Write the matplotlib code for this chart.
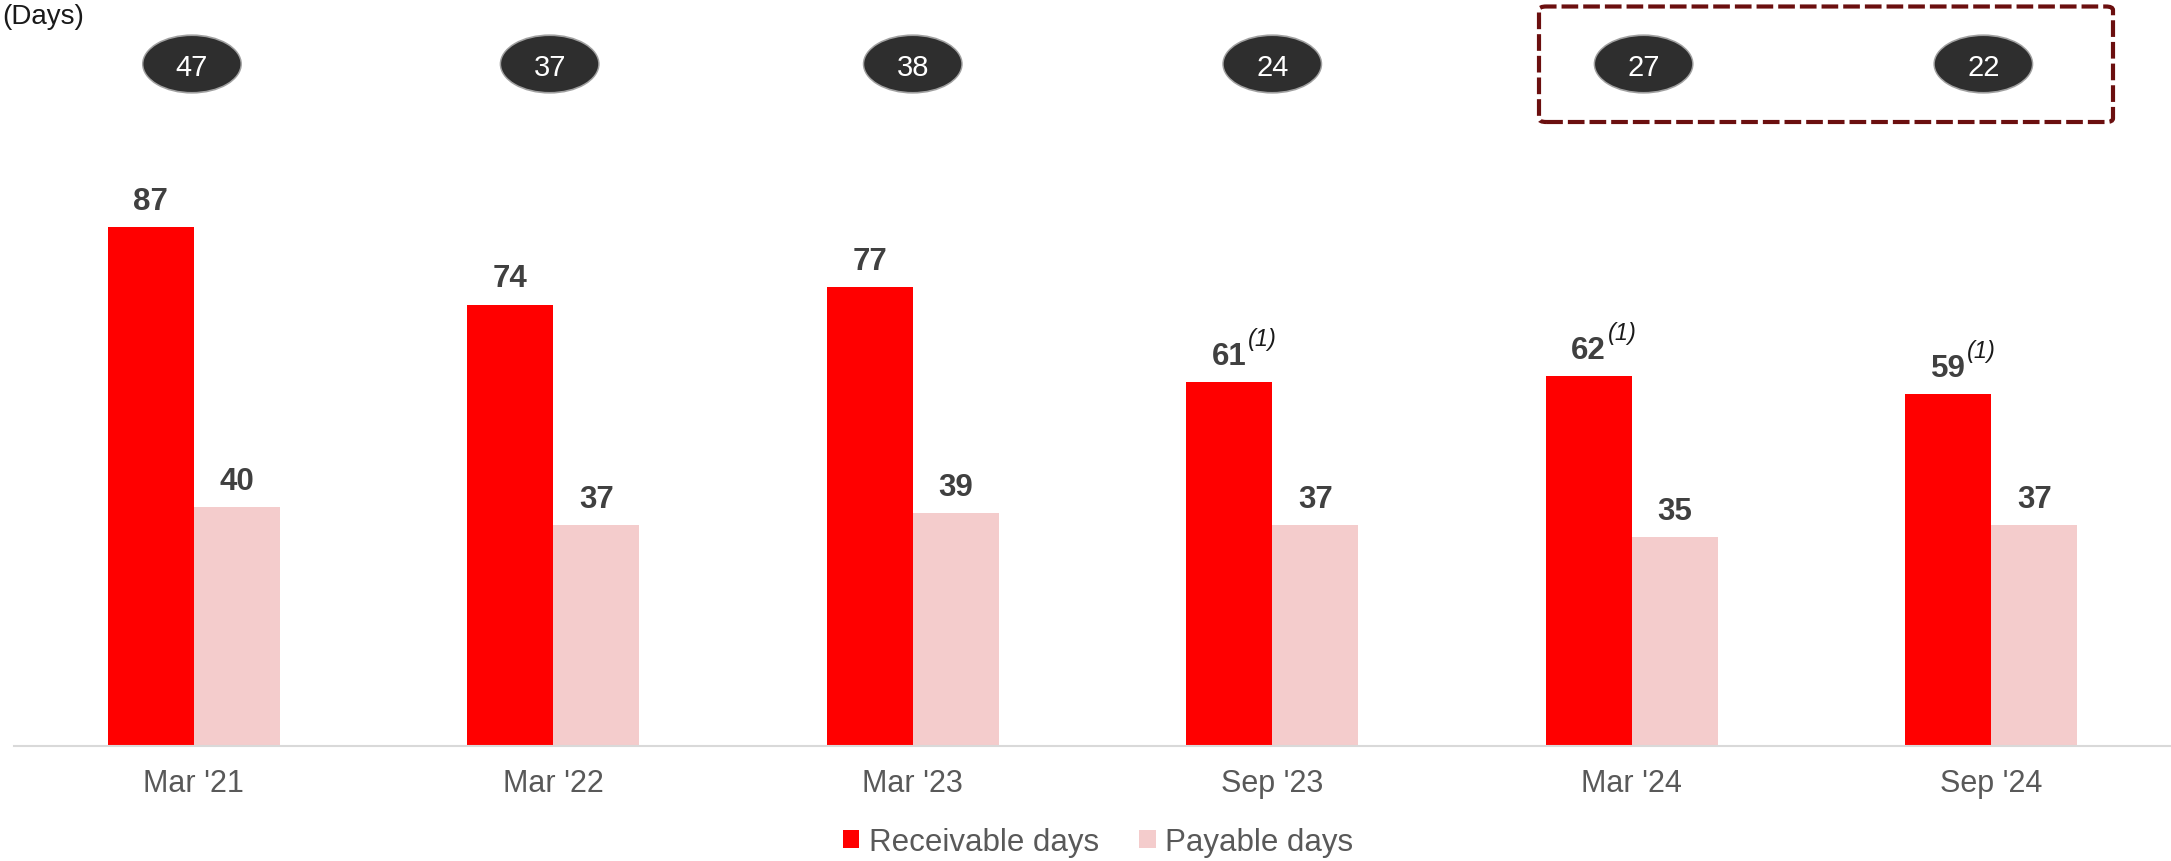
import matplotlib
matplotlib.use("Agg")
import matplotlib.pyplot as plt
from matplotlib.patches import Ellipse, FancyBboxPatch, Patch
import numpy as np

plt.rcParams['font.family'] = ['Liberation Sans', 'DejaVu Sans']
plt.rcParams['lines.scale_dashes'] = False

# ---- data ----
categories = ["Mar '21", "Mar '22", "Mar '23", "Sep '23", "Mar '24", "Sep '24"]
receivable_days = [87, 74, 77, 61, 62, 59]
payable_days = [40, 37, 39, 37, 35, 37]
net_days = [47, 37, 38, 24, 27, 22]
footnote_flags = [False, False, False, True, True, True]
series_names = ["Receivable days", "Payable days"]

RED = "#ff0000"
PINK = "#f4cccc"
LABEL = "#404040"
TICK = "#595959"

W, H = 2171, 862
fig = plt.figure(figsize=(W / 100, H / 100), dpi=100)
ax = fig.add_axes([14 / W, 115 / H, (W - 14) / W, 1 - 115 / H])

x = np.arange(len(categories))
bw = 86 / 359.5
ax.bar(x - bw / 2, receivable_days, bw, color=RED, label=series_names[0])
ax.bar(x + bw / 2, payable_days, bw, color=PINK, label=series_names[1])

ax.set_xlim(-0.5, len(categories) - 0.5)
ax.set_ylim(0, 747 / 5.966)

for s in ["top", "right", "left"]:
    ax.spines[s].set_visible(False)
ax.spines["bottom"].set_color("#d9d9d9")
ax.spines["bottom"].set_linewidth(1.5)
ax.set_yticks([])
ax.set_xticks(x)
ax.set_xticklabels(categories, fontsize=22, color=TICK)
ax.tick_params(axis="x", length=0, pad=16)

# value labels
for xi, v, fn in zip(x, receivable_days, footnote_flags):
    t = ax.annotate(str(v), (xi - bw / 2, v), xytext=(0, 13), textcoords="offset points",
                    ha="center", va="baseline", fontsize=22.5, fontweight="bold", color=LABEL)
    if fn:
        ax.annotate("(1)", xy=(1, v), xycoords=(t, "data"), xytext=(1, 26.5),
                    textcoords="offset points", ha="left", va="baseline",
                    fontsize=17, fontstyle="italic", color="#1a1a1a")
for xi, v in zip(x, payable_days):
    ax.annotate(str(v), (xi + bw / 2, v), xytext=(0, 13), textcoords="offset points",
                ha="center", va="baseline", fontsize=22.5, fontweight="bold", color=LABEL)

# net-days ellipses (soft edge via a faint halo)
ell_y = (747 - 65) / 5.966
ell_w = 98 / 359.5
ell_h = 57 / 5.966
ell_dx = [-0.005, -0.01, 0.0, 0.0, 0.033, -0.022]
for xi, n, dx in zip(x, net_days, ell_dx):
    halo = Ellipse((xi + dx, ell_y), ell_w * 1.02, ell_h * 1.04, facecolor="#2e2e2e",
                   edgecolor="none", alpha=0.45, clip_on=False, zorder=4.9)
    ax.add_patch(halo)
    e = Ellipse((xi + dx, ell_y), ell_w * 0.99, ell_h * 0.98, facecolor="#2e2e2e",
                edgecolor="none", clip_on=False, zorder=5)
    ax.add_patch(e)
    ax.text(xi + dx, ell_y, str(n), ha="center", va="center_baseline", fontsize=21,
            color="white", zorder=6, clip_on=False)

# dashed highlight box
bx0 = (1539 - 14) / 359.5 - 0.5
bx1 = (2113 - 14) / 359.5 - 0.5
by0 = (747 - 123) / 5.966
by1 = (747 - 7.5) / 5.966
box = FancyBboxPatch((bx0, by0), bx1 - bx0, by1 - by0,
                     boxstyle="round,pad=0,rounding_size=0.02",
                     mutation_aspect=30,
                     facecolor="none", edgecolor="#6b0f0f", linewidth=3.0,
                     linestyle=(0, (12, 3.6)), clip_on=False, zorder=4)
ax.add_patch(box)

# unit text (kept fully inside the canvas)
fig.text(2 / W, 1 - 4 / H, "(Days)", ha="left", va="top", fontsize=20, color="#1a1a1a")

# legend
handles = [Patch(facecolor=RED), Patch(facecolor=PINK)]
fig.legend(handles, series_names, loc="center", bbox_to_anchor=(1098 / W, 1 - 843 / H),
           ncol=2, frameon=False, fontsize=22.5, handlelength=0.52, handleheight=0.52,
           handletextpad=0.3, columnspacing=1.3, labelcolor=TICK, borderpad=0, borderaxespad=0)

fig.savefig("out.png", dpi=100)
